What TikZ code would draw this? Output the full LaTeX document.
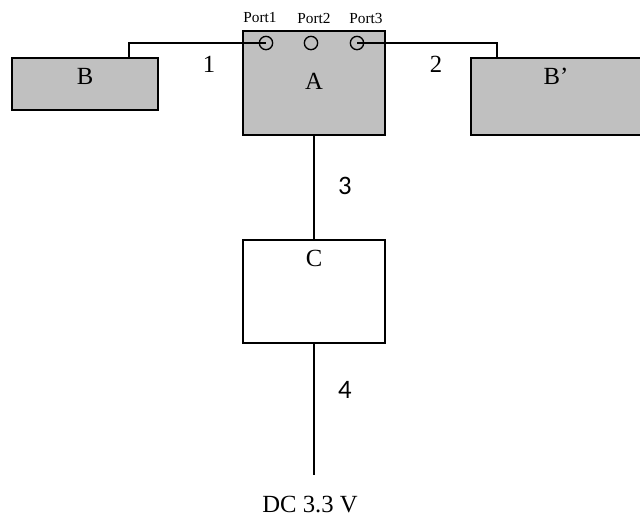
\documentclass[tikz,border=0pt]{standalone}
\usepackage{fontspec}
\setmainfont{Liberation Serif}
\newfontfamily\numfont{Carlito}
\definecolor{boxgray}{RGB}{192,192,192}

\begin{document}
\begin{tikzpicture}[x=0.75pt,y=-0.75pt,
  blk/.style={rectangle,draw=black,line width=1.1pt,inner sep=0pt},
  txt/.style={inner sep=0pt,font=\fontsize{18.5}{20}\selectfont},
  port/.style={circle,draw=black,line width=1pt,minimum size=10pt,inner sep=0pt},
  line width=1pt]
\useasboundingbox (0,0) rectangle (640,519);
\node[blk,fill=boxgray,minimum width=109.5pt,minimum height=39pt](B) at (85,84){};
\node[blk,fill=boxgray,minimum width=106.5pt,minimum height=78pt](A) at (314,83){};
\node[blk,fill=boxgray,minimum width=141.75pt,minimum height=57.75pt](B2) at (565.5,96.5){};
\node[blk,minimum width=106.5pt,minimum height=77.25pt](C) at (314,291.5){};
\node[txt](tB) at (85,76){B};
\node[txt](tA) at (314,81){A};
\node[txt](tB2) at (556,76){B'};
\node[txt](tC) at (314,258){C};
\node[port](p1) at (266,43){};
\node[port](p2) at (311,43){};
\node[port](p3) at (357,43){};
\node[inner sep=0pt,font=\fontsize{11.5}{12}\selectfont](l1) at (260,18){Port1};
\node[inner sep=0pt,font=\fontsize{11.5}{12}\selectfont](l2) at (314,18){Port2};
\node[inner sep=0pt,font=\fontsize{11.5}{12}\selectfont](l3) at (366,18){Port3};
\coordinate (k1) at (129,43);
\coordinate (k2) at (497,43);
\coordinate (dc) at (314,475);
\draw(B.north -| k1)--(k1)--(p1.center);
\draw(p3.center)--(k2)--(B2.north -| k2);
\draw(A.south)--(C.north);
\draw(C.south)--(dc);
\node[txt](n1) at (209,64){1};
\node[txt](n2) at (436,64){2};
\node[inner sep=0pt,font=\numfont\fontsize{20}{22}\selectfont](n3) at (345,185.5){3};
\node[inner sep=0pt,font=\numfont\fontsize{20}{22}\selectfont](n4) at (345,389.5){4};
\node[txt](v) at (310,505){DC 3.3 V};
\end{tikzpicture}
\end{document}
